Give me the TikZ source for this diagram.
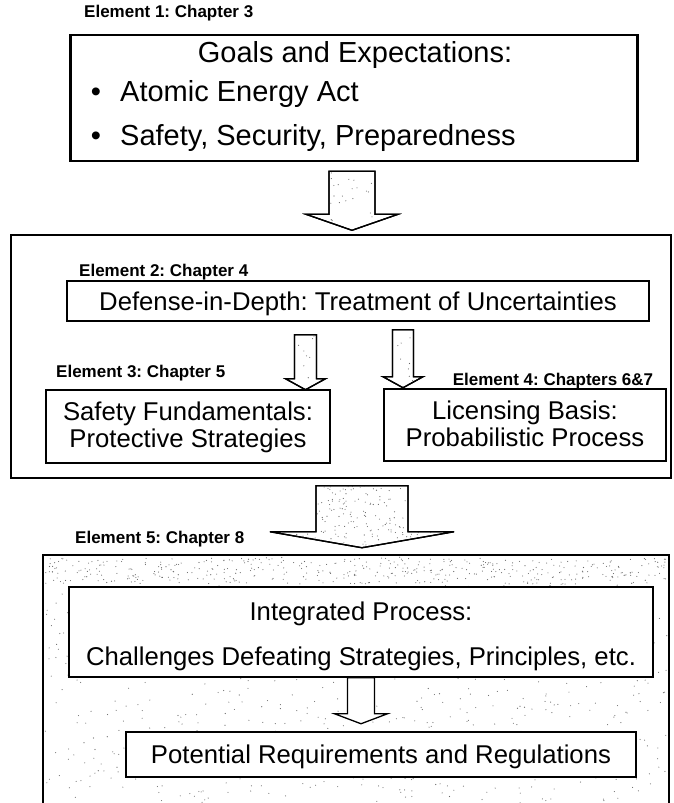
\documentclass[tikz,border=0pt]{standalone}
\usepackage{fontspec}
\setmainfont{Liberation Sans}
\frenchspacing
\usetikzlibrary{calc}
% hollow block arrow pointing down:
% #1 path options, #2 top-centre coordinate, #3 shaft half width,
% #4 shaft length, #5 head half width, #6 head height
\newcommand\hollowarrow[6]{%
  \path[#1] (#2) ++(-#3,0) -- ++({2*#3},0) -- ++(0,#4) -- ++({#5-#3},0)
    -- ++({-#5},#6) -- ++({-#5},{-#6}) -- ++({#5-#3},0) -- cycle;}
% stippled hollow arrow: same arguments plus #7 seed, #8 number of specks;
% the specks are scattered in the box \scx,\scy,\scw,\sch
\newcommand\stippledarrow[9]{%
  \hollowarrow{blockarrow}{#2}{#3}{#4}{#5}{#6}
  \begin{scope}
    \hollowarrow{clip}{#2}{#3}{#4}{#5}{#6}
    \pgfmathsetseed{#7}
    \foreach \k in {1,...,#8}{%
      \pgfmathsetmacro\sx{\scx+\scw*rnd}\pgfmathsetmacro\sy{\scy+\sch*rnd}
      \fill[speck] (\sx,\sy) circle (0.55pt);}
  \end{scope}
  \hollowarrow{draw=black, line width=1.3pt, line join=miter}{#2}{#3}{#4}{#5}{#6}}
\begin{document}
\begin{tikzpicture}[x=1pt,y=-1pt,
  frame/.style={draw=black, line width=1.5pt, fill=white, inner sep=0pt},
  heavyframe/.style={frame, line width=2.6pt},
  boxtext/.style={font=\fontsize{25.7}{30}\selectfont, inner sep=0pt, anchor=base},
  bigtext/.style={font=\fontsize{29}{34}\selectfont, inner sep=0pt, anchor=base},
  tag/.style={font=\bfseries\fontsize{17}{20}\selectfont, inner sep=0pt, anchor=base west},
  blockarrow/.style={draw=black, line width=1.3pt, fill=white, line join=miter},
  speck/.style={fill=black!60}
]
\useasboundingbox (0,0) rectangle (674,803);
\clip (0,0) rectangle (674,803);

% ---- Element 1 ----
\node[tag] (e1) at (84,17) {Element 1: Chapter 3};
\node[heavyframe, minimum width=567pt, minimum height=126pt] (goals) at (354,98) {};
\node[bigtext] (goalshead) at (355,62) {Goals and Expectations:};
\node[bigtext] (dot1) at (96,101) {•};
\node[bigtext, anchor=base west] (aea) at (120,101) {Atomic Energy Act};
\node[bigtext] (dot2) at (96,145) {•};
\node[bigtext, anchor=base west] (ssp) at (120,145) {Safety, Security, Preparedness};

% arrow into element 2 (lightly stippled)
\coordinate (a1) at ($(goals.south)+(-2,9)$);
\def\scx{329}\def\scy{171}\def\scw{46}\def\sch{50}
\stippledarrow{}{a1}{23}{43}{46}{16}{311}{22}{}

% ---- Element 2 frame ----
\node[frame, minimum width=660pt, minimum height=243pt] (outer2) at (341,356.5) {};
\node[tag] (e2) at (79,276) {Element 2: Chapter 4};
\node[frame, minimum width=582pt, minimum height=40pt] (did) at (358,301) {};
\node[boxtext] (didtext) at (358,310) {Defense-in-Depth: Treatment of Uncertainties};

% arrows to elements 3 and 4
\coordinate (a3) at ($(did.south)+(-52.5,13)$);
\coordinate (a4) at ($(did.south)+(45,8)$);
\def\scx{294}\def\scy{334}\def\scw{23}\def\sch{50}
\stippledarrow{}{a3}{11}{44}{20}{11}{57}{8}{}
\def\scx{392}\def\scy{329}\def\scw{22}\def\sch{52}
\stippledarrow{}{a4}{10.5}{47}{20}{11}{93}{9}{}

% ---- Element 3 ----
\node[tag] (e3) at (56,377) {Element 3: Chapter 5};
\node[frame, minimum width=284pt, minimum height=73pt] (safety) at (188,426.5) {};
\node[boxtext] (sf1) at (188,420) {Safety Fundamentals:};
\node[boxtext] (sf2) at (188,447) {Protective Strategies};

% ---- Element 4 ----
\node[tag, anchor=base] (e4) at (553,385) {Element 4: Chapters 6\&7};
\node[frame, minimum width=282pt, minimum height=72pt] (licensing) at (525,425) {};
\node[boxtext] (lb1) at (525,419) {Licensing Basis:};
\node[boxtext] (lb2) at (525,446) {Probabilistic Process};

% ---- Element 5 frame, stippled ----
\node[frame, minimum width=626pt, minimum height=290pt] (outer3) at (356,700) {};
\begin{scope}
  \clip (outer3.north west) rectangle (outer3.south east);
  \pgfmathsetseed{4711}
  \foreach \k in {1,...,800}{
    \fill[speck] ({45+622*rnd},{557+246*rnd}) circle (0.55pt);
  }
  % denser band along the top edge
  \foreach \k in {1,...,380}{
    \fill[speck] ({45+622*rnd},{558+26*rnd}) circle (0.55pt);
  }
\end{scope}
\node[tag] (e5) at (75,543) {Element 5: Chapter 8};

% big arrow into element 5, stippled
\coordinate (a5) at ($(outer2.south)+(21,7)$);
\def\scx{270}\def\scy{485}\def\scw{184}\def\sch{62}
\stippledarrow{}{a5}{46}{46}{92}{16}{815}{300}{}

\node[frame, minimum width=584pt, minimum height=90pt] (integ) at (361,632) {};
\node[boxtext] (ip1) at (361,620) {Integrated Process:};
\node[boxtext] (ip2) at (361,665) {Challenges Defeating Strategies, Principles, etc.};

\coordinate (a6) at (integ.south);
\hollowarrow{blockarrow}{a6}{13.5}{36}{26.5}{10}

\node[frame, minimum width=510pt, minimum height=45pt] (potential) at (381,754.5) {};
\node[boxtext] (prr) at (381,763) {Potential Requirements and Regulations};
\end{tikzpicture}
\end{document}
